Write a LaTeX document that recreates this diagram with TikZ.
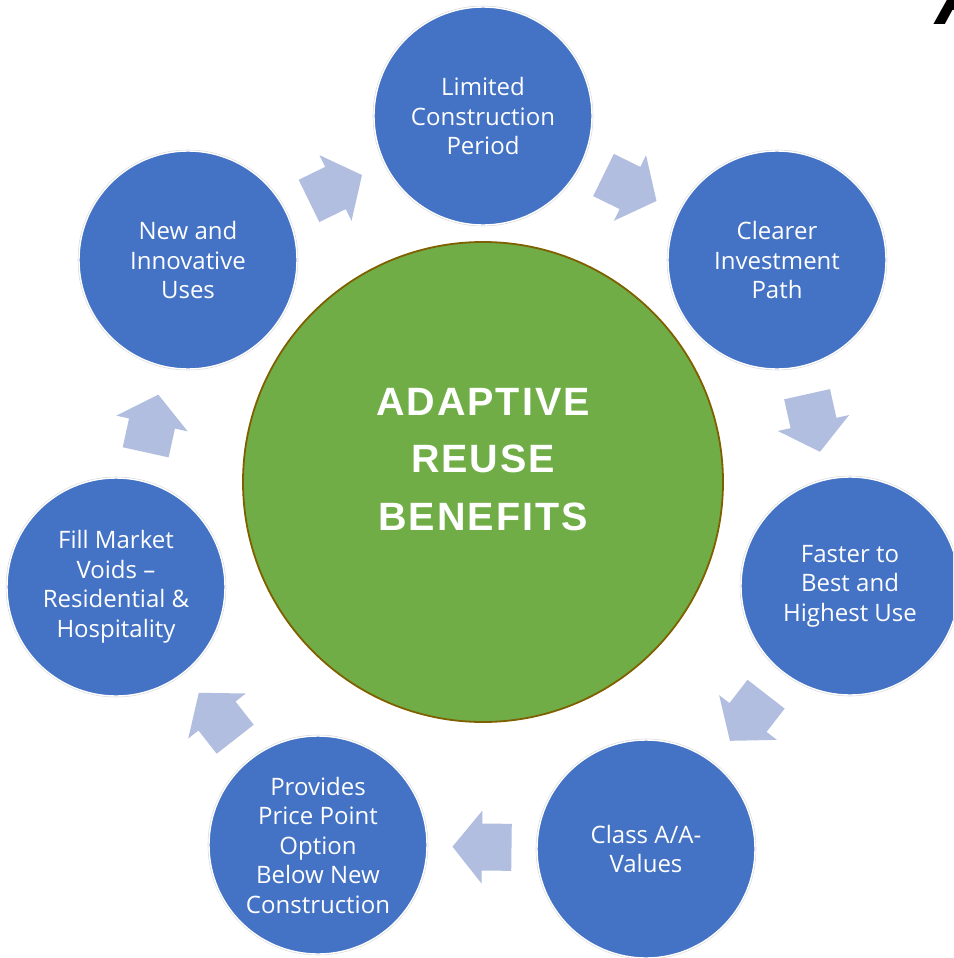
\documentclass[tikz,border=0pt]{standalone}
\usepackage{fontspec}
\setmainfont{Open Sans}
\newfontfamily\titlefont[LetterSpace=5]{Liberation Sans}
\newfontfamily\cornerfont{Liberation Sans}
\usetikzlibrary{calc}

\definecolor{bubbleblue}{HTML}{4472C4}
\definecolor{hubgreen}{HTML}{70AD47}
\definecolor{hubrim}{HTML}{7F6000}
\definecolor{arrowfill}{HTML}{B1BEDF}

\tikzset{
  bubble/.style={circle,fill=bubbleblue,draw=white,line width=1.4pt,
    preaction={draw=black!15,line width=2.6pt},
    minimum size=218pt,inner sep=0pt,align=center,text=white,
    font=\fontsize{24}{29.5}\selectfont},
  hub/.style={circle,fill=hubgreen,draw=hubrim,line width=1.8pt,
    minimum size=480pt,inner sep=0pt},
  pics/blockarrow/.style={code={
    \fill[arrowfill] (-29.5,-23.5) -- (0,-23.5) -- (0,-36.5) -- (29.5,0)
      -- (0,36.5) -- (0,23.5) -- (-29.5,23.5) -- cycle;}}
}

\begin{document}
\begin{tikzpicture}[x=1pt,y=-1pt]
  \clip (0,0) rectangle (953,958);
  \fill[white] (0,0) rectangle (953,958);

  % centre hub with the title
  \node[hub] (hub) at (483,482) {};
  \node[text=white,align=center,inner sep=0pt,
    font=\titlefont\bfseries\fontsize{39.5}{57.5}\selectfont] (title) at (483,459.5)
    {ADAPTIVE\\REUSE\\BENEFITS};

  % the seven benefits, clockwise from the top
  \node[bubble] (limited) at (483,116) {Limited\\Construction\\Period};
  \node[bubble] (clearer) at (777,260) {Clearer\\Investment\\Path};
  \node[bubble] (faster) at (850,586) {Faster to\\Best and\\Highest Use};
  \node[bubble] (classa) at (646,849) {Class A/A-\\Values};
  \node[bubble] (price) at (318,845) {Provides\\Price Point\\Option\\Below New\\Construction};
  \node[bubble] (voids) at (116,587) {Fill Market\\Voids –\\Residential \&\\Hospitality};
  \node[bubble] (newuses) at (188,260) {New and\\Innovative\\Uses};

  % block arrows half way between neighbours
  \foreach \from/\to in {newuses/limited,limited/clearer,clearer/faster,
      faster/classa,classa/price,price/voids,voids/newuses}
    \path let \p1=(\from), \p2=(\to), \n1={atan2(\y2-\y1,\x2-\x1)} in
      ($(\from)!0.5!(\to)$) pic[rotate=\n1] {blockarrow};

  % letter cut by the top edge
  \node[anchor=base west,inner sep=0pt,
    font=\cornerfont\bfseries\itshape\fontsize{80}{80}\selectfont] (corner) at (935,25) {A};
\end{tikzpicture}
\end{document}
